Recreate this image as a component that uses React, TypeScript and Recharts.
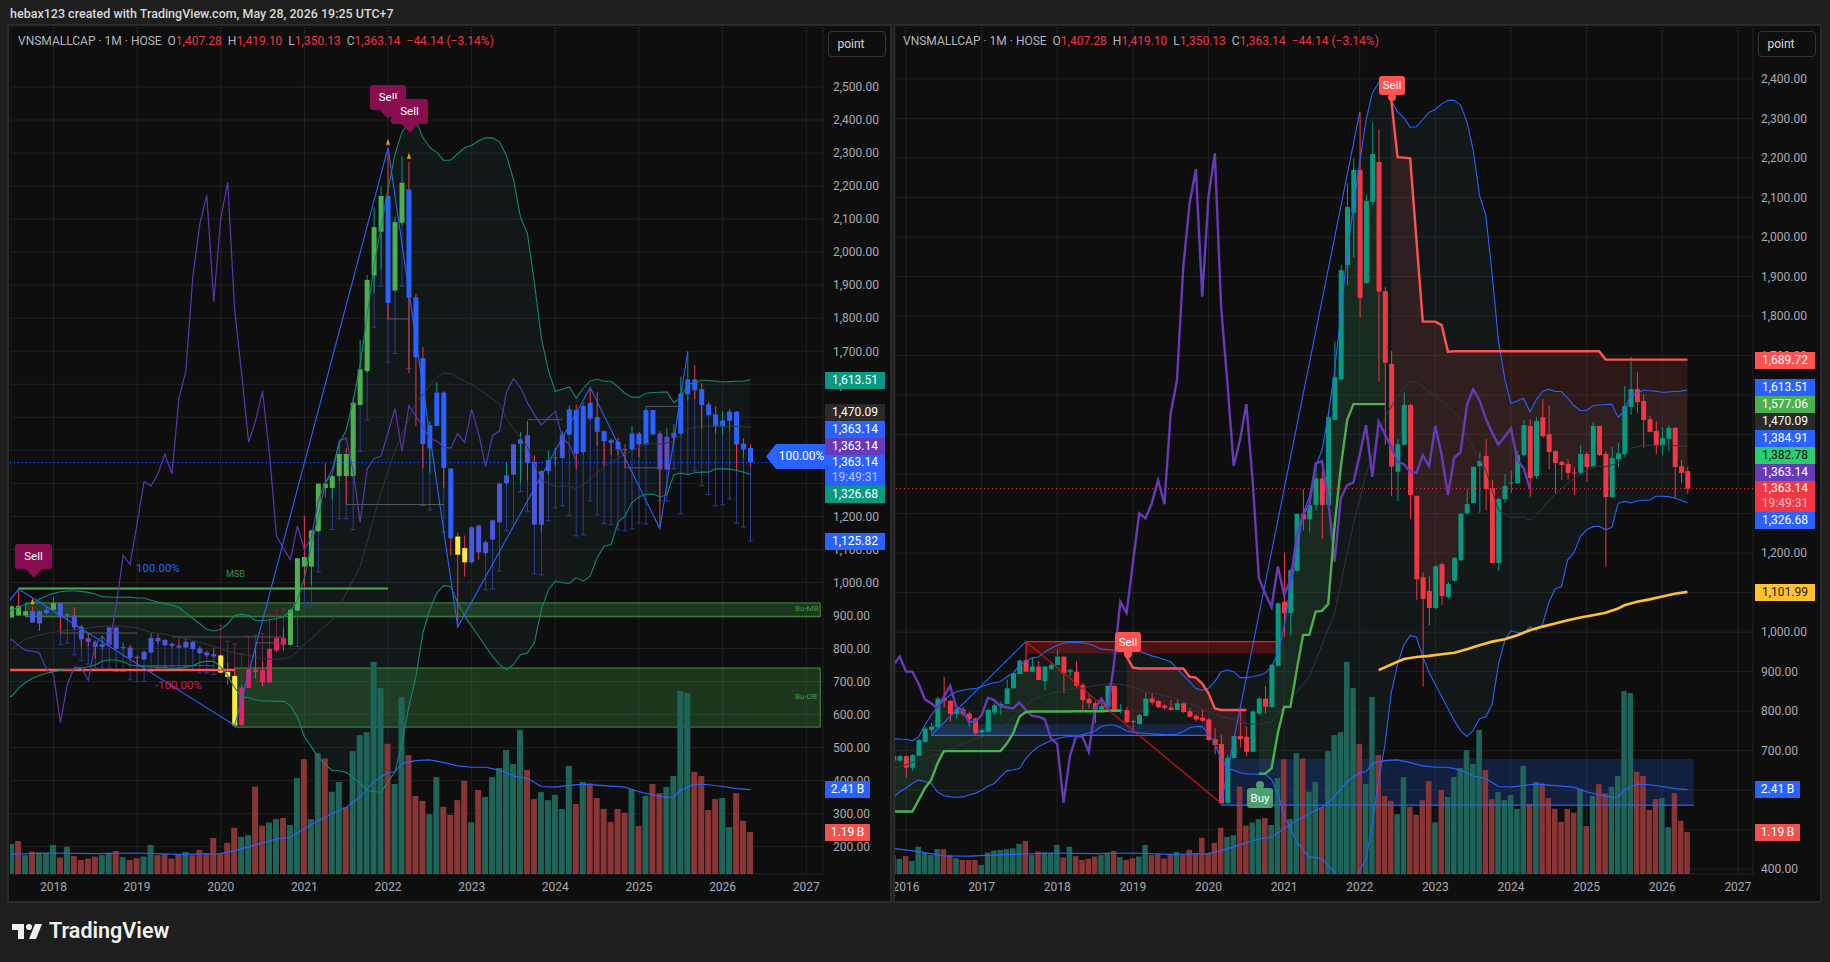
import React from "react";
import {
  ComposedChart, Bar, Line, Area, XAxis, YAxis, CartesianGrid,
  ReferenceArea, ReferenceLine, ReferenceDot,
} from "recharts";

// Monthly bars, index 0 = 2015-11 ... index 126 = 2026-05
const opens = [686,675,
  686,657,687,722,752,759,834,826,793,805,794,782,
  746,748,797,815,818,858,894,929,900,913,876,907,
  917,938,900,900,866,831,820,805,811,864,801,803,
  775,767,788,832,826,814,809,803,820,800,788,783,
  779,729,717,568,681,737,735,697,794,832,811,915,
  1077,1048,1155,1299,1286,1322,1389,1322,1537,1640,1929,2062,
  2170,1884,2089,2190,1863,1679,1406,1474,1575,1345,1139,1104,
  1061,1172,1089,1130,1182,1301,1327,1420,1446,1365,1175,1337,
  1377,1377,1448,1522,1395,1544,1501,1458,1431,1426,1404,1403,
  1451,1418,1522,1451,1342,1438,1450,1570,1615,1585,1539,1509,
  1471,1489,1517,1420,1407.28];
const closes = [675,686,
  657,689,727,756,761,832,826,793,805,793,780,744,
  752,803,815,818,858,896,928,900,913,879,913,917,
  938,896,904,864,828,820,805,813,864,799,804,772,
  772,790,832,822,810,808,803,820,798,786,779,776,
  727,714,567,682,737,729,697,799,832,811,917,1073,
  1048,1157,1299,1286,1322,1389,1322,1544,1645,1916,2076,2170,
  1846,2091,2210,1862,1682,1419,1476,1575,1347,1134,1084,1061,
  1167,1091,1122,1188,1299,1324,1418,1433,1362,1175,1337,1370,
  1379,1448,1524,1390,1534,1496,1456,1428,1423,1403,1402,1451,
  1418,1522,1448,1342,1441,1453,1572,1615,1582,1537,1507,1471,
  1491,1517,1418,1403,1363.14];
const highs = [690,690,
  688,691,730,760,770,836,887,828,815,811,799,783,
  756,806,820,824,880,898,930,976,936,927,915,925,
  956,938,908,925,872,845,825,835,866,866,818,811,
  779,793,847,845,828,818,828,832,822,808,793,803,
  783,757,740,690,738,813,761,802,835,864,920,1075,
  1202,1160,1301,1362,1325,1420,1408,1560,1735,1930,2136,2199,
  2316,2108,2290,2273,1873,1712,1489,1607,1579,1345,1151,1142,
  1170,1176,1127,1190,1303,1362,1420,1455,1489,1385,1340,1400,
  1408,1458,1537,1539,1544,1590,1575,1460,1434,1438,1418,1474,
  1456,1532,1522,1458,1469,1479,1623,1696,1658,1603,1547,1534,
  1519,1524,1519,1436,1419.1];
const lows = [670,672,
  632,649,685,720,745,757,810,773,782,786,761,740,
  734,746,790,790,818,858,893,899,899,879,853,904,
  917,845,889,856,805,807,769,796,810,798,794,770,
  744,767,788,815,808,803,802,803,796,784,774,772,
  725,691,565,566,680,708,686,696,790,794,808,913,
  988,992,1153,1257,1252,1307,1236,1320,1537,1635,1877,1948,
  1796,1880,2081,1634,1474,1345,1332,1474,1286,1081,862,1018,
  1058,1069,1084,1128,1180,1296,1325,1302,1309,1175,1155,1327,
  1353,1375,1445,1343,1388,1492,1413,1350,1385,1385,1347,1398,
  1380,1415,1446,1165,1340,1418,1443,1550,1555,1466,1505,1451,
  1448,1458,1340,1377,1350.13];
const volumes = [.54,.43,
  .51,.37,.78,.61,.54,.71,.71,.54,.45,.40,.40,.40,
  .26,.61,.67,.69,.71,.73,.86,.94,.54,.64,.62,.61,
  .83,.47,.78,.51,.40,.44,.50,.54,.61,.66,.48,.40,
  .45,.50,.83,.54,.57,.44,.57,.63,.54,.69,.59,1.03,
  .59,.89,1.32,1.06,1.11,2.50,1.38,1.47,1.57,1.60,1.40,2.74,
  3.28,1.57,3.45,3.30,2.35,2.63,1.91,3.51,3.97,4.05,6.06,5.31,
  3.72,2.57,5.06,3.40,2.23,2.09,1.71,2.77,1.92,1.69,2.11,2.66,
  1.48,2.40,2.20,2.77,3.03,3.54,3.14,4.12,2.97,2.14,2.34,2.11,
  2.26,1.86,3.09,2.00,2.63,2.59,2.17,1.86,1.49,1.86,1.75,2.43,
  1.37,2.23,2.57,2.31,2.49,2.80,5.23,5.17,2.92,2.80,1.83,2.14,
  2.17,1.34,2.31,1.52,1.20];
const upperBand = [731,729,
  729,725,735,765,790,810,828,841,849,853,856,857,
  862,868,872,875,887,896,917,925,935,937,950,959,
  967,972,974,974,973,970,965,957,956,955,955,956,
  953,953,946,940,936,931,925,908,891,875,858,853,
  858,875,900,904,900,885,885,887,891,896,913,946,
  1014,1115,1200,1300,1343,1419,1461,1550,1660,1807,1959,2077,
  2191,2296,2364,2391,2399,2347,2317,2302,2278,2279,2298,2316,
  2323,2337,2346,2346,2334,2292,2220,2106,2056,1908,1739,1642,
  1579,1585,1592,1558,1588,1610,1615,1609,1609,1592,1573,1561,
  1561,1573,1575,1576,1577,1544,1560,1600,1604,1613,1611,1610,
  1607,1608,1609,1610,1613.51];
const lowerBand = [582,596,
  605,617,626,622,617,596,586,583,582,583,588,592,
  600,610,617,634,649,651,655,680,697,710,718,725,
  730,734,736,737,740,745,750,761,765,765,759,750,
  747,745,744,743,742,740,741,742,748,758,761,761,
  744,718,681,655,651,644,641,641,640,640,627,592,
  533,503,470,449,430,430,425,410,392,370,367,365,
  397,427,513,625,715,847,918,968,991,987,938,898,
  867,837,806,776,751,736,751,781,786,817,918,978,
  1004,999,997,1014,1004,1019,1075,1110,1115,1183,1201,1242,
  1259,1267,1268,1259,1265,1326,1331,1327,1332,1334,1334,1344,
  1344,1343,1339,1334,1326.68];
const midBandReadings = [[0,655],[2,664],[4,676],[6,685],[8,695],[10,712],[12,723],[14,735],[16,744],[18,769],[20,799],[22,828],[24,841],[26,849],[28,855],[30,858],[32,865],[34,869],[36,868],[38,862],[40,849],[42,843],[44,835],[46,824],[48,813],[50,799],[52,786],[54,779],[56,769],[58,767],[60,773],[62,811],[66,887],[70,1048],[73,1275],[75,1400],[78,1545],[81,1621],[82,1634],[83,1632],[85,1609],[86,1600],[88,1571],[90,1541],[91,1495],[94,1410],[95,1360],[96,1309],[98,1290],[100,1292],[101,1283],[102,1296],[105,1350],[108,1389],[111,1420],[113,1419],[115,1427],[117,1465],[119,1473],[123,1473],[126,1470.09]];
const rsiLine = [917,938,
  900,900,870,830,820,807,836,864,809,803,773,773,
  790,834,828,813,810,807,822,803,788,786,780,731,
  717,568,685,737,735,697,807,832,804,920,1077,1049,
  1174,1301,1288,1326,1385,1324,1554,1638,1925,2085,2172,1849,
  2102,2212,1824,1630,1421,1486,1577,1385,1136,1098,1064,1166,
  1094,1132,1242,1299,1322,1427,1433,1334,1178,1339,1372,1379,
  1450,1524,1393,1533,1500,1469,1431,1425,1406,1403,1448,1420,
  1522,1448,1347,1442,1455,1575,1615,1587,1541,1505,1474,1495,
  1516,1435,1415,1363];
const volumeMaReadings = [[0,.73],[4,.64],[8,.52],[12,.51],[16,.54],[20,.57],[26,.60],[32,.58],[38,.60],[44,.56],[50,.58],[52,.67],[55,.83],[58,1.0],[60,1.05],[62,1.30],[64,1.52],[66,1.73],[68,1.9],[70,2.21],[72,2.64],[74,2.9],[75,2.92],[76,3.16],[78,3.24],[80,3.26],[82,3.18],[84,3.09],[86,3.05],[88,3.05],[90,2.97],[92,2.8],[94,2.73],[96,2.5],[98,2.48],[100,2.53],[102,2.57],[104,2.54],[106,2.51],[108,2.48],[110,2.35],[112,2.26],[114,2.19],[115,2.2],[116,2.4],[118,2.57],[120,2.55],[122,2.5],[124,2.44],[126,2.41]];
const trendUp = [546,546,546,546,575,605,626,668,699,699,699,699,699,699,699,699,699,699,718,744,786,798,799,799,799,799,799,799,799,800,800,800,800,800,801,801,801];
const trendUpFirst = 0;
const trendDown = [938,910,908,908,908,908,908,908,908,908,887,885,870,845,807,803,803,803,803,803];
const trendDownFirst = 37;
const trendUp2 = [642,642,655,744,811,811,904,993,993,1052,1054,1071,1267,1419,1537,1577,1577,1577,1577,1577,1577];
const trendUp2First = 58;
const trendDown2 = [2347,2202,2201,2199,1992,1786,1786,1786,1777,1710,1711,1711,1711,1711,1711,1711,1711,1711,1711,1711,1711,1711,1711,1711,1711,1711,1711,1711,1711,1711,1711,1711,1711,1711,1690,1689.72,1689.72,1689.72,1689.72,1689.72,1689.72,1689.72,1689.72,1689.72,1689.72,1689.72,1689.72,1689.72];
const trendDown2First = 79;
const emaReadings = [[77,904],[79,918],[81,932],[83,937],[85,940],[87,944],[89,948],[91,957],[93,967],[95,976],[97,982],[99,992],[101,1005],[103,1014],[105,1022],[107,1030],[109,1037],[111,1043],[113,1049],[115,1060],[116,1068],[118,1077],[120,1083],[122,1090],[124,1097],[126,1101.99]];
const rightZigBlue1 = [[6,739],[21,976]];
const rightZigRed = [[21,976],[52,567]];
const rightZigBlue2 = [[52,567],[74,2316]];
const leftZig = [[19,925],[21,980],[52,567],[74,2316],[84,865],[103,1590],[113,1163],[117,1700]];
// Second indicator of the left panel: the stop level drawn from each bar, from index 20
const leftStops = [null,null,null,null,null,null,null,812,817,781,763,753,741,741,741,731,731,705,700,700,731,741,746,746,741,746,736,726,726,721,870,822,814,783,837,839,845,903,916,920,null,806,930,928,1032,null,1160,1193,1193,1160,1397,1492,1773,1897,1667,1693,1897,1648,null,1233,1219,null,1152,null,null,null,null,null,978,980,1035,1156,1180,1275,1214,1026,1023,1187,1226,1232,1202,1141,1144,1247,1205,1178,1175,1159,1156,1162,1180,1177,null,1247,1247,1344,1208,1326,1338,1293,1266,1232,1235,1253,1180,1168,1125.82];
const leftStopsFirst = 20;
// Regime of each bar on the left panel, from index 19
const leftRegimes = "g ggg iii g iiiiiiiiiiiiiiiiiiiiiii yyy kkkkkkk gggggggggggggg b gg bbbbbbb yy iiiiiiiiiiiiii bbbbbbbbbbbbb ppp bbbbbbbbbbb".replace(/ /g, "");
const leftRegimesFirst = 19;
const leftYearTicks = [26,38,50,62,74,86,98,110,122,134];
const rightYearTicks = [2,14,26,38,50,62,74,86,98,110,122,134];
const leftPriceTicks = [200,300,400,500,600,700,800,900,1000,1100,1200,1300,1400,1500,1600,1700,1800,1900,2000,2100,2200,2300,2400,2500];
const rightPriceTicks = [400,500,600,700,800,900,1000,1100,1200,1300,1400,1500,1600,1700,1800,1900,2000,2100,2200,2300,2400];
const firstYear = 2016;

const fromKnots = (k: number[][]) => new Map(k.map((p) => [p[0], p[1]]));
const midMap = fromKnots(midBandReadings);
const maMap = fromKnots(volumeMaReadings);
const emaMap = fromKnots(emaReadings);
const zb1 = fromKnots(rightZigBlue1);
const zr = fromKnots(rightZigRed);
const zb2 = fromKnots(rightZigBlue2);
const zl = fromKnots(leftZig);

const at = (arr: number[], first: number, i: number) => {
  const v = arr[i - first];
  return v === undefined ? null : v;
};

const rows = opens.map((o, i) => {
  const c = closes[i], h = highs[i], l = lows[i];
  const mid = (o + c) / 2;
  const stop = at(leftStops as any, leftStopsFirst, i);
  const su = at(trendUp, trendUpFirst, i) ?? at(trendUp2, trendUp2First, i);
  const sd = at(trendDown, trendDownFirst, i) ?? at(trendDown2, trendDown2First, i);
  return {
    t: i, o, c, h, l, v: volumes[i], stop,
    regime: leftRegimes[i - leftRegimesFirst] ?? "b",
    upper: upperBand[i], lower: lowerBand[i], band: [lowerBand[i], upperBand[i]],
    mid: midMap.get(i) ?? null, ma: maMap.get(i) ?? null, ema: emaMap.get(i) ?? null,
    rsi: i < rsiLine.length ? rsiLine[i] : null,
    su, sd,
    suFill: su == null ? null : [Math.min(su, mid), Math.max(su, mid)],
    sdFill: sd == null ? null : [Math.min(sd, mid), Math.max(sd, mid)],
    zb1: zb1.get(i) ?? null, zr: zr.get(i) ?? null, zb2: zb2.get(i) ?? null, zl: zl.get(i) ?? null,
    rangeL: [Math.min(l, stop ?? l), Math.max(h, stop ?? h)],
    rangeR: [l, h],
  };
});
const leftRows = rows.slice(19);

const UP = "#089981", DOWN = "#f23645", BLUE = "#2962ff";
const REGIME: Record<string, string> = { g: "#4caf50", b: "#2962ff", i: "#4a58dc", p: "#5f4bc8", y: "#ffeb3b", k: "#e91e63" };

const priceFmt = (v: number) => v.toLocaleString("en-US", { minimumFractionDigits: 2, maximumFractionDigits: 2 });
const yearFmt = (v: number) => String(firstYear + Math.round((v - 2) / 12));

function candleShape(left: boolean) {
  return (p: any) => {
    const d = p.payload;
    const [lo, hi] = left ? d.rangeL : d.rangeR;
    const yOf = (v: number) => p.y + ((hi - v) / (hi - lo || 1)) * p.height;
    const cx = p.x + p.width / 2;
    const up = d.c >= d.o;
    const wick = up ? UP : DOWN;
    const body = left ? REGIME[d.regime] : wick;
    const top = yOf(Math.max(d.o, d.c));
    const bot = yOf(Math.min(d.o, d.c));
    const out: any[] = [];
    if (left && d.stop != null) {
      const above = d.stop > d.h;
      const sy = yOf(d.stop);
      const col = above ? "#7a1f45" : "#2a3f96";
      out.push(<line key="s" x1={cx} x2={cx} y1={sy} y2={above ? top : bot} stroke={col} strokeWidth={1} />);
      out.push(<line key="sd" x1={cx - 2.5} x2={cx + 2.5} y1={sy} y2={sy} stroke={col} strokeWidth={1} />);
    }
    out.push(<line key="w" x1={cx} x2={cx} y1={yOf(d.h)} y2={yOf(d.l)} stroke={wick} strokeWidth={1} />);
    out.push(<rect key="b" x={p.x} y={top} width={p.width} height={Math.max(bot - top, 1)} fill={body} />);
    return <g>{out}</g>;
  };
}
const volumeShape = (p: any) => (
  <rect x={p.x} y={p.y} width={p.width} height={p.height} fill={p.payload.c >= p.payload.o ? "#1f6459" : "#8a3535"} />
);
const triangle = (p: any) => (
  <path d={`M${p.cx - 2} ${p.cy + 3}L${p.cx} ${p.cy - 3}L${p.cx + 2} ${p.cy + 3}Z`} fill="#ff9800" />
);

const axisTick = { fill: "#a8abb2", fontSize: 12, fontFamily: "Roboto" };
const leftAxisTick = { ...axisTick, dx: 2 };
const PX = { xAxisId: "x", yAxisId: "p" } as const;

function LeftChart() {
  return (
    <ComposedChart width={880} height={874} data={leftRows} margin={{ top: 0, right: 0, bottom: 0, left: 0 }}>
      <CartesianGrid stroke="#1f2022" xAxisId="x" yAxisId="p" />
      <XAxis xAxisId="x" dataKey="t" type="number" domain={[19.77, 136.4]} allowDataOverflow ticks={leftYearTicks} tickFormatter={yearFmt} height={27} axisLine={false} tickLine={false} tick={axisTick} interval={0} />
      <XAxis xAxisId="xv" dataKey="t" type="number" domain={[19.77, 136.4]} allowDataOverflow hide />
      <YAxis yAxisId="p" orientation="right" width={67} domain={[117.3, 2681.7]} allowDataOverflow ticks={leftPriceTicks} tickFormatter={priceFmt} axisLine={false} tickLine={false} tick={leftAxisTick} interval={0} />
      <YAxis yAxisId="v" hide domain={[0, 24.2]} allowDataOverflow />
      <YAxis yAxisId="r" hide domain={[108, 2684]} allowDataOverflow />
      <Bar xAxisId="xv" yAxisId="v" dataKey="v" barSize={6} shape={volumeShape} isAnimationActive={false} />
      <Area {...PX} dataKey="band" stroke="none" fill="#4a8a9a" fillOpacity={0.07} isAnimationActive={false} dot={false} activeDot={false} />
      <Line {...PX} dataKey="mid" stroke="#33353a" strokeWidth={1} dot={false} connectNulls isAnimationActive={false} />
      <ReferenceArea {...PX} x1={52} x2={136} y1={562} y2={741} fill="#4caf50" fillOpacity={0.25} stroke="#4caf50" strokeOpacity={0.8} />
      <ReferenceArea {...PX} x1={22} x2={136} y1={896} y2={938} fill="#4caf50" fillOpacity={0.25} stroke="#4caf50" strokeOpacity={0.8} />
      <ReferenceLine {...PX} segment={[{ x: 21, y: 982 }, { x: 74, y: 982 }]} stroke="#4caf50" strokeWidth={2} />
      <ReferenceLine {...PX} segment={[{ x: 19.8, y: 735 }, { x: 52, y: 735 }]} stroke="#ff5252" strokeWidth={2.5} />
      <ReferenceLine {...PX} segment={[{ x: 27, y: 847 }, { x: 38, y: 847 }]} stroke="#55585c" />
      <ReferenceLine {...PX} segment={[{ x: 43, y: 835 }, { x: 59, y: 835 }]} stroke="#55585c" />
      <ReferenceLine {...PX} segment={[{ x: 55, y: 817 }, { x: 59, y: 817 }]} stroke="#55585c" />
      <ReferenceLine {...PX} segment={[{ x: 38, y: 748 }, { x: 49, y: 748 }]} stroke="#55585c" />
      <ReferenceLine {...PX} segment={[{ x: 68, y: 1236 }, { x: 82, y: 1236 }]} stroke="#55585c" />
      <ReferenceLine {...PX} segment={[{ x: 74, y: 1798 }, { x: 77, y: 1798 }]} stroke="#55585c" />
      <ReferenceLine {...PX} segment={[{ x: 94, y: 1493 }, { x: 99, y: 1493 }]} stroke="#55585c" />
      <ReferenceLine {...PX} segment={[{ x: 111, y: 1533 }, { x: 116, y: 1533 }]} stroke="#55585c" />
      <ReferenceLine {...PX} segment={[{ x: 108, y: 1347 }, { x: 113, y: 1347 }]} stroke="#55585c" />
      <Line xAxisId="x" yAxisId="r" dataKey="rsi" stroke="#5e35b1" strokeWidth={1.2} dot={false} isAnimationActive={false} />
      <ReferenceLine {...PX} y={1363.14} stroke={BLUE} strokeDasharray="1 3" />
      <Line xAxisId="x" yAxisId="v" dataKey="ma" stroke="#2962ff" strokeWidth={1.2} dot={false} connectNulls isAnimationActive={false} />
      <Bar {...PX} dataKey="rangeL" barSize={5} shape={candleShape(true)} isAnimationActive={false} />
      <Line {...PX} dataKey="upper" stroke="#0f8a74" strokeWidth={1.1} dot={false} isAnimationActive={false} />
      <Line {...PX} dataKey="lower" stroke="#0f8a74" strokeWidth={1.1} dot={false} isAnimationActive={false} />
      <Line {...PX} dataKey="zl" stroke="#2962ff" strokeWidth={1.1} dot={false} connectNulls isAnimationActive={false} />
      <ReferenceDot {...PX} x={74} y={2334} r={3} shape={triangle} />
      <ReferenceDot {...PX} x={77} y={2292} r={3} shape={triangle} />
      <ReferenceDot {...PX} x={23} y={943} r={3} shape={triangle} />
    </ComposedChart>
  );
}

function RightChart() {
  return (
    <ComposedChart width={925} height={874} data={rows} margin={{ top: 0, right: 0, bottom: 0, left: 0 }}>
      <CartesianGrid stroke="#1f2022" xAxisId="x" yAxisId="p" />
      <XAxis xAxisId="x" dataKey="t" type="number" domain={[0.254, 136.4]} allowDataOverflow ticks={rightYearTicks} tickFormatter={yearFmt} height={27} axisLine={false} tickLine={false} tick={axisTick} interval={0} />
      <XAxis xAxisId="xv" dataKey="t" type="number" domain={[0.254, 136.4]} allowDataOverflow hide />
      <YAxis yAxisId="p" orientation="right" width={67} domain={[387.9, 2531.6]} allowDataOverflow ticks={rightPriceTicks} tickFormatter={priceFmt} axisLine={false} tickLine={false} tick={axisTick} interval={0} />
      <YAxis yAxisId="v" hide domain={[0, 24.2]} allowDataOverflow />
      <Bar xAxisId="xv" yAxisId="v" dataKey="v" barSize={5.5} shape={volumeShape} isAnimationActive={false} />
      <Area {...PX} dataKey="band" stroke="none" fill="#4a8a9a" fillOpacity={0.07} isAnimationActive={false} dot={false} activeDot={false} />
      <Area {...PX} dataKey="suFill" stroke="none" fill="#4caf50" fillOpacity={0.12} isAnimationActive={false} dot={false} activeDot={false} />
      <Area {...PX} dataKey="sdFill" stroke="none" fill="#ff5252" fillOpacity={0.13} isAnimationActive={false} dot={false} activeDot={false} />
      <Line {...PX} dataKey="mid" stroke="#33353a" strokeWidth={1} dot={false} connectNulls isAnimationActive={false} />
      <ReferenceArea {...PX} x1={6} x2={50} y1={739} y2={767} fill={BLUE} fillOpacity={0.2} stroke="none" />
      <ReferenceArea {...PX} x1={21} x2={61} y1={946} y2={976} fill="#ff1a1a" fillOpacity={0.25} stroke="none" />
      <ReferenceArea {...PX} x1={52} x2={127} y1={562} y2={679} fill={BLUE} fillOpacity={0.2} stroke="none" />
      <ReferenceLine {...PX} segment={[{ x: 6, y: 739 }, { x: 50, y: 739 }]} stroke={BLUE} strokeWidth={1.2} />
      <ReferenceLine {...PX} segment={[{ x: 21, y: 976 }, { x: 61, y: 976 }]} stroke="#ff1a1a" strokeWidth={1.2} />
      <ReferenceLine {...PX} segment={[{ x: 52, y: 562 }, { x: 127, y: 562 }]} stroke={BLUE} strokeWidth={1.2} />
      <ReferenceLine {...PX} y={1363.14} stroke={DOWN} strokeDasharray="1 3" />
      <Line {...PX} dataKey="upper" stroke="#2962ff" strokeWidth={1.1} dot={false} isAnimationActive={false} />
      <Line {...PX} dataKey="lower" stroke="#2962ff" strokeWidth={1.1} dot={false} isAnimationActive={false} />
      <Line {...PX} dataKey="rsi" stroke="#673ab7" strokeWidth={2.4} dot={false} isAnimationActive={false} />
      <Line xAxisId="x" yAxisId="v" dataKey="ma" stroke="#2962ff" strokeWidth={1.2} dot={false} connectNulls isAnimationActive={false} />
      <Line {...PX} dataKey="su" stroke="#4caf50" strokeWidth={2.4} dot={false} isAnimationActive={false} />
      <Line {...PX} dataKey="sd" stroke="#ff5252" strokeWidth={2.4} dot={false} isAnimationActive={false} />
      <Line {...PX} dataKey="ema" stroke="#ffc130" strokeWidth={2.6} dot={false} connectNulls isAnimationActive={false} />
      <Bar {...PX} dataKey="rangeR" barSize={5} shape={candleShape(false)} isAnimationActive={false} />
      <Line {...PX} dataKey="zb1" stroke="#2962ff" strokeWidth={1.1} dot={false} connectNulls isAnimationActive={false} />
      <Line {...PX} dataKey="zr" stroke="#e01010" strokeWidth={1.1} dot={false} connectNulls isAnimationActive={false} />
      <Line {...PX} dataKey="zb2" stroke="#2962ff" strokeWidth={1.1} dot={false} connectNulls isAnimationActive={false} />
    </ComposedChart>
  );
}

const abs = (x: number, y: number, w: number, h: number, extra: any = {}) => ({ position: "absolute", left: x, top: y, width: w, height: h, ...extra } as any);
const FONT = "Roboto, sans-serif";

function Tag({ x, y, w = 60, h = 17, bg, fg = "#fff", text, sub }: any) {
  return (
    <div style={abs(x, y, w, h, { background: bg, color: fg, fontSize: 12, fontFamily: FONT, textAlign: "center", lineHeight: sub ? "15px" : `${h}px` })}>
      {text}
      {sub ? <div style={{ color: "rgba(255,255,255,.65)" }}>{sub}</div> : null}
    </div>
  );
}

function Legend({ x }: any) {
  const grey = "#b2b5be", red = "#f23645";
  return (
    <div style={{ position: "absolute", left: x, top: 34, fontSize: 12, fontFamily: FONT, color: grey, whiteSpace: "pre" }}>
      {"VNSMALLCAP · 1M · HOSE  O"}<span style={{ color: red }}>1,407.28</span>{"  H"}<span style={{ color: red }}>1,419.10</span>{"  L"}<span style={{ color: red }}>1,350.13</span>{"  C"}<span style={{ color: red }}>1,363.14</span><span style={{ color: red }}>{"  −44.14 (−3.14%)"}</span>
    </div>
  );
}

function Marker({ x, y, w, h, bg, text, tipY, round }: any) {
  const cx = x + w / 2;
  return (
    <>
      {round
        ? <div style={abs(cx - 4, tipY - 4, 8, 8, { background: bg, borderRadius: 4 })} />
        : <div style={abs(cx - 6, y + h - 6, 12, 12, { background: bg, transform: "rotate(45deg)" })} />}
      <div style={abs(x, y, w, h, { background: bg, borderRadius: 3, color: "#fff", fontFamily: FONT, fontSize: 11.5, textAlign: "center", lineHeight: `${h}px` })}>{text}</div>
    </>
  );
}

const pointStyle = { border: "1px solid #333", borderRadius: 4, color: "#d8d8d8", fontFamily: FONT, fontSize: 12, textAlign: "center", lineHeight: "24px", boxSizing: "border-box", paddingRight: 12 };

export default function App() {
  return (
    <div style={abs(0, 0, 1830, 962, { background: "#1e1e1e", overflow: "hidden" })}>
      <div style={{ position: "absolute", left: 10, top: 6, color: "#d8d8d8", fontFamily: FONT, fontSize: 12.5, fontWeight: 500 }}>
        hebax123 created with TradingView.com, May 28, 2026 19:25 UTC+7
      </div>
      {/* panels */}
      <div style={abs(9, 26, 881, 875, { background: "#0e0e0e", outline: "2px solid #2a2a2a" })} />
      <div style={abs(895, 26, 925, 875, { background: "#0e0e0e", outline: "2px solid #2a2a2a" })} />
      <div style={{ position: "absolute", left: 10, top: 27 }}><LeftChart /></div>
      <div style={{ position: "absolute", left: 895, top: 27 }}><RightChart /></div>

      <Legend x={18} />
      <Legend x={903} />
      <div style={abs(828, 31, 58, 26, pointStyle)}>point</div>
      <div style={abs(1758, 31, 58, 26, pointStyle)}>point</div>

      {/* left drawn texts */}
      <div style={{ position: "absolute", left: 136, top: 561, color: "#2962ff", fontFamily: FONT, fontSize: 11.5 }}>100.00%</div>
      <div style={{ position: "absolute", left: 155, top: 678, color: "#d81b60", fontFamily: FONT, fontSize: 11.5 }}>-100.00%</div>
      <div style={{ position: "absolute", left: 226, top: 569, color: "#4caf50", fontFamily: FONT, fontSize: 9, opacity: .8 }}>MSB</div>
      <div style={{ position: "absolute", left: 795, top: 604, color: "#4caf50", fontFamily: FONT, fontSize: 8, opacity: .8 }}>Bu-MB</div>
      <div style={{ position: "absolute", left: 795, top: 692, color: "#4caf50", fontFamily: FONT, fontSize: 8, opacity: .8 }}>Bu-OB</div>

      {/* markers */}
      <Marker x={15} y={544} w={37} h={25} bg="#880e4f" text="Sell" />
      <Marker x={370} y={85} w={36} h={25} bg="#880e4f" text="Sell" />
      <Marker x={391} y={99} w={37} h={25} bg="#880e4f" text="Sell" />
      <Marker x={1379} y={76} w={26} h={19} bg="#ff5252" text="Sell" round tipY={97} />
      <Marker x={1115} y={632} w={26} h={20} bg="#ff5252" text="Sell" round tipY={654} />
      <Marker x={1247} y={788} w={26} h={20} bg="#4c9f70" text="Buy" round tipY={785} />

      {/* left price tags */}
      <svg style={abs(766, 444, 14, 25)}><path d="M0 12.5L10 0H14V25H10Z" fill={BLUE} /></svg>
      <Tag x={778} y={444} w={47} h={25} bg={BLUE} text="100.00%" />
      <Tag x={825} y={372} bg="#089981" text="1,613.51" />
      <Tag x={825} y={404} bg="#2a2a2a" text="1,470.09" />
      <Tag x={825} y={421} bg={BLUE} text="1,363.14" />
      <Tag x={825} y={438} bg="#673ab7" text="1,363.14" />
      <Tag x={825} y={455} h={31} bg={BLUE} text="1,363.14" sub="19:49:31" />
      <Tag x={825} y={486} bg="#089981" text="1,326.68" />
      <Tag x={825} y={533} bg={BLUE} text="1,125.82" />
      <Tag x={825} y={781} w={45} bg={BLUE} text={"2.41\u2009B"} />
      <Tag x={825} y={824} w={45} bg="#ef5350" text={"1.19\u2009B"} />

      {/* right price tags */}
      <Tag x={1755} y={352} bg="#ff5252" text="1,689.72" />
      <Tag x={1755} y={379} bg={BLUE} text="1,613.51" />
      <Tag x={1755} y={396} bg="#4caf50" text="1,577.06" />
      <Tag x={1755} y={413} bg="#2a2a2a" text="1,470.09" />
      <Tag x={1755} y={430} bg={BLUE} text="1,384.91" />
      <Tag x={1755} y={447} bg="#2ecc71" fg="#111" text="1,382.78" />
      <Tag x={1755} y={464} bg="#673ab7" text="1,363.14" />
      <Tag x={1755} y={481} h={31} bg={DOWN} text="1,363.14" sub="19:49:31" />
      <Tag x={1755} y={512} bg={BLUE} text="1,326.68" />
      <Tag x={1755} y={584} bg="#ffc130" fg="#222" text="1,101.99" />
      <Tag x={1755} y={781} w={45} bg={BLUE} text={"2.41\u2009B"} />
      <Tag x={1755} y={824} w={45} bg="#ef5350" text={"1.19\u2009B"} />

      {/* footer */}
      <svg style={abs(9.5, 918, 36, 28)} viewBox="0 0 36 28">
        <path d="M14 6H2v6h6v9h6V6Zm12 15h-7l6-15h7l-6 15Zm-7-9a3 3 0 1 0 0-6 3 3 0 0 0 0 6Z" fill="#f0f0f0" />
      </svg>
      <div style={{ position: "absolute", left: 49, top: 918, color: "#f0f0f0", fontFamily: FONT, fontWeight: 600, fontSize: 21.5 }}>TradingView</div>
    </div>
  );
}
